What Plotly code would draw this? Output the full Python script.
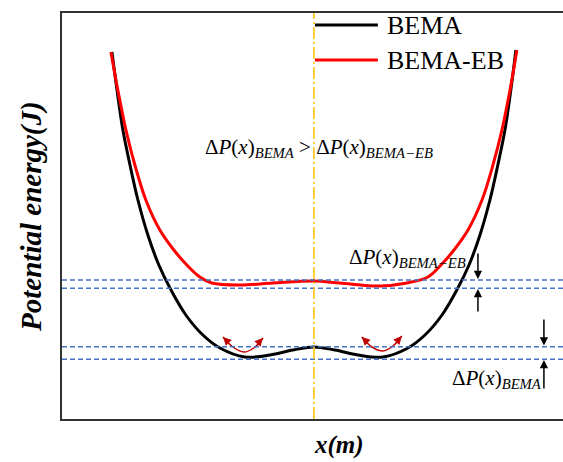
import plotly.graph_objects as go

# Displacement (m) and potential energy (J) sampled along each curve
x_bema = [-0.995, -0.970, -0.941, -0.906, -0.867, -0.818, -0.764, -0.704, -0.631, -0.547,
          -0.463, -0.340, -0.217, -0.103, 0.0, 0.103, 0.217, 0.340, 0.463, 0.547,
          0.631, 0.704, 0.764, 0.818, 0.867, 0.906, 0.941, 0.970, 0.995]
p_bema = [3.68, 3.30, 2.90, 2.55, 2.20, 1.85, 1.55, 1.30, 1.05, 0.85,
          0.72, 0.63, 0.65, 0.70, 0.73, 0.70, 0.65, 0.63, 0.72, 0.85,
          1.05, 1.30, 1.55, 1.85, 2.20, 2.55, 2.90, 3.30, 3.70]

x_eb = [-1.0, -0.966, -0.926, -0.882, -0.828, -0.759, -0.690, -0.626, -0.562, -0.503,
        -0.365, -0.202, 0.0, 0.128, 0.325, 0.458, 0.562, 0.626, 0.690, 0.759,
        0.828, 0.882, 0.926, 0.966, 1.0]
p_eb = [3.68, 3.30, 2.90, 2.55, 2.20, 1.90, 1.70, 1.55, 1.43, 1.37,
        1.35, 1.37, 1.39, 1.37, 1.34, 1.37, 1.43, 1.55, 1.70, 1.90,
        2.20, 2.55, 2.90, 3.30, 3.70]

# Reference energy levels (barrier top / well bottom) for each model
levels_eb = [1.40, 1.317]
levels_bema = [0.733, 0.607]

# Oscillation hints inside the two BEMA wells
arc_left_x = [-0.448, -0.399, -0.345, -0.296, -0.251]
arc_left_y = [0.83, 0.73, 0.68, 0.72, 0.82]
arc_right_x = [0.236, 0.286, 0.340, 0.389, 0.433]
arc_right_y = [0.83, 0.73, 0.69, 0.74, 0.84]

series_names = ["BEMA", "BEMA-EB"]
series_colors = ["#000000", "#FF0000"]

X_RANGE = [-1.241, 1.227]
Y_RANGE = [0.01, 4.07]
SERIF = "Liberation Serif"

fig = go.Figure()

fig.add_trace(go.Scatter(x=x_bema, y=p_bema, mode="lines", name=series_names[0],
                         line=dict(color=series_colors[0], width=3, shape="spline", smoothing=1)))
fig.add_trace(go.Scatter(x=x_eb, y=p_eb, mode="lines", name=series_names[1],
                         line=dict(color=series_colors[1], width=3, shape="spline", smoothing=1)))

for ax_, ay_ in [(arc_left_x, arc_left_y), (arc_right_x, arc_right_y)]:
    fig.add_trace(go.Scatter(x=ax_, y=ay_, mode="lines", showlegend=False, hoverinfo="skip",
                             line=dict(color="#C00000", width=1.5, shape="spline")))

shapes = []
# Horizontal dashed energy levels
for lv in levels_eb + levels_bema:
    shapes.append(dict(type="line", xref="paper", x0=0, x1=1, yref="y", y0=lv, y1=lv,
                       line=dict(color="#4472C4", width=1.5, dash="5px,3px")))
# Symmetry axis
shapes.append(dict(type="line", xref="x", x0=0, x1=0, yref="paper", y0=0, y1=1,
                   line=dict(color="#FFC000", width=1.5, dash="12px,3px,2px,3px")))
# Legend samples
shapes.append(dict(type="line", xref="x", x0=0.005, x1=0.315, yref="y", y0=3.95, y1=3.95,
                   line=dict(color=series_colors[0], width=3)))
shapes.append(dict(type="line", xref="x", x0=0.005, x1=0.315, yref="y", y0=3.60, y1=3.60,
                   line=dict(color=series_colors[1], width=3)))

annotations = []
for name, yy in zip(series_names, [3.95, 3.60]):
    annotations.append(dict(x=0.35, y=yy, xref="x", yref="y", text=name, showarrow=False,
                            xanchor="left", yanchor="middle",
                            font=dict(family=SERIF, size=26, color="#000")))

math_font = dict(family=SERIF, size=21, color="#000")
annotations.append(dict(x=0.025, y=2.72, xref="x", yref="y", showarrow=False,
                        text="Δ<i>P</i>(<i>x</i>)<sub><i>BEMA</i></sub> > Δ<i>P</i>(<i>x</i>)<sub><i>BEMA−EB</i></sub>",
                        font=math_font, xanchor="center", yanchor="middle"))
annotations.append(dict(x=0.165, y=1.62, xref="x", yref="y", showarrow=False,
                        text="Δ<i>P</i>(<i>x</i>)<sub><i>BEMA−EB</i></sub>",
                        font=math_font, xanchor="left", yanchor="middle"))
annotations.append(dict(x=0.67, y=0.41, xref="x", yref="y", showarrow=False,
                        text="Δ<i>P</i>(<i>x</i>)<sub><i>BEMA</i></sub>",
                        font=math_font, xanchor="left", yanchor="middle"))

# Vertical black arrows marking each energy gap
for (xa, y_from, y_to) in [(0.808, 1.68, 1.41), (0.808, 1.07, 1.31),
                           (1.133, 1.02, 0.745), (1.133, 0.30, 0.60)]:
    annotations.append(dict(x=xa, y=y_to, ax=xa, ay=y_from, xref="x", yref="y",
                            axref="x", ayref="y", text="", showarrow=True,
                            arrowhead=2, arrowsize=1.1, arrowwidth=1.5, arrowcolor="#000"))

# Arrowheads on both ends of each oscillation arc
for ax_, ay_ in [(arc_left_x, arc_left_y), (arc_right_x, arc_right_y)]:
    for tip, back in [(0, 1), (-1, -2)]:
        annotations.append(dict(x=ax_[tip], y=ay_[tip],
                                ax=ax_[tip] + 0.35 * (ax_[back] - ax_[tip]),
                                ay=ay_[tip] + 0.35 * (ay_[back] - ay_[tip]),
                                xref="x", yref="y", axref="x", ayref="y", text="",
                                showarrow=True, arrowhead=2, arrowsize=1.1,
                                arrowwidth=1.5, arrowcolor="#C00000"))

# Axis titles
annotations.append(dict(x=-0.062, y=0.5, xref="paper", yref="paper", showarrow=False,
                        text="<b><i>Potential energy(J)</i></b>", textangle=-90,
                        font=dict(family=SERIF, size=29, color="#000"),
                        xanchor="center", yanchor="middle"))
annotations.append(dict(x=(339 - 62) / 501, y=-0.064, xref="paper", yref="paper", showarrow=False,
                        text="<b><i>x(m)</i></b>",
                        font=dict(family=SERIF, size=25, color="#000"),
                        xanchor="center", yanchor="middle"))

fig.update_layout(
    width=563, height=462,
    margin=dict(l=62, r=0, t=13, b=43),
    paper_bgcolor="white", plot_bgcolor="white",
    showlegend=False,
    shapes=shapes, annotations=annotations,
    xaxis=dict(range=X_RANGE, showgrid=False, zeroline=False, showticklabels=False,
               ticks="", showline=True, mirror=True, linecolor="#333", linewidth=2),
    yaxis=dict(range=Y_RANGE, showgrid=False, zeroline=False, showticklabels=False,
               ticks="", showline=True, mirror=False, linecolor="#333", linewidth=2),
)

fig.write_html("out.html")
